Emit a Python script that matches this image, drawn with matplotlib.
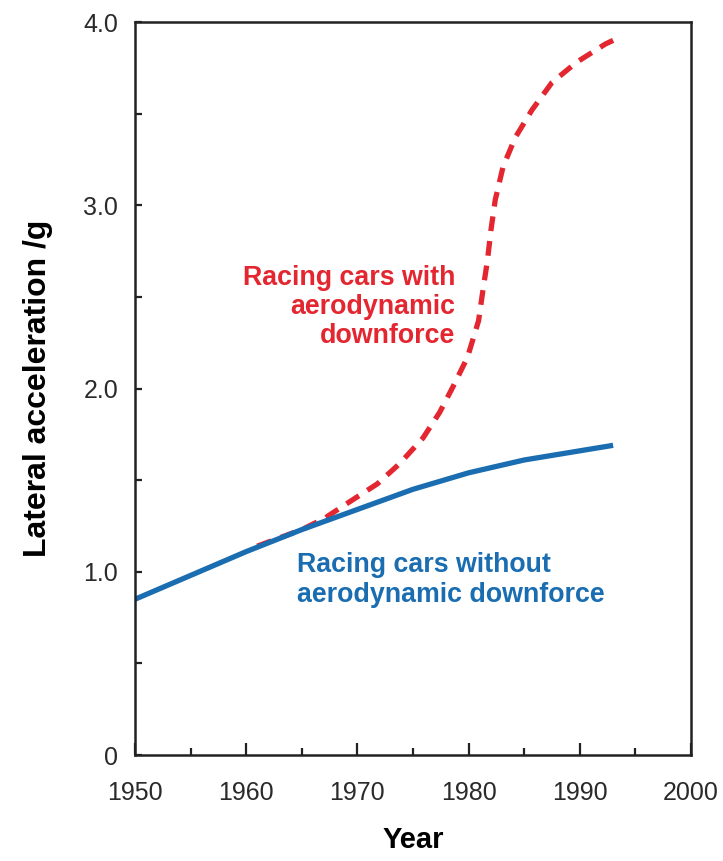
#!/usr/bin/env python
# -*- coding: utf-8 -*-

import matplotlib
matplotlib.use("Agg")
import matplotlib.pyplot as plt
from matplotlib.ticker import MultipleLocator

plt.rcParams['font.family'] = ['Liberation Sans', 'DejaVu Sans']

# -- data
years_without = [1950, 1955, 1960, 1965, 1970, 1975, 1980, 1985, 1990, 1993]
accel_without = [0.85, 0.98, 1.11, 1.23, 1.34, 1.45, 1.54, 1.61, 1.66, 1.69]

years_with = [1961, 1965, 1967, 1969, 1971.8, 1973.8, 1975.9, 1977.4, 1978.6,
              1979.9, 1980.9, 1981.3, 1981.7, 1982, 1982.4, 1983.1, 1984.2,
              1985.7, 1987.5, 1989.7, 1992.3, 1993]
accel_with = [1.14, 1.23, 1.29, 1.37, 1.48, 1.59, 1.73, 1.87, 2.01,
              2.17, 2.37, 2.54, 2.70, 2.86, 3.03, 3.21, 3.37,
              3.52, 3.67, 3.78, 3.88, 3.90]

x_ticks = [1950, 1960, 1970, 1980, 1990, 2000]
y_ticks = [0, 1.0, 2.0, 3.0, 4.0]
y_ticklabels = ['0', '1.0', '2.0', '3.0', '4.0']

blue = '#1a6db0'
red = '#e3262f'

fig = plt.figure(figsize=(7.23, 8.61), dpi=100)
ax = fig.add_axes([0.1867, 0.1231, 0.769, 0.8513])

ax.plot(years_with, accel_with, color=red, linewidth=3.8,
        dashes=(2.8, 1.9), dash_capstyle='butt', solid_joinstyle='round')
ax.plot(years_without, accel_without, color=blue, linewidth=3.8,
        solid_capstyle='butt', solid_joinstyle='round')

ax.set_xlim(1950, 2000)
ax.set_ylim(0, 4.0)
ax.set_xticks(x_ticks)
ax.xaxis.set_minor_locator(MultipleLocator(5))
ax.set_yticks(y_ticks)
ax.set_yticklabels(y_ticklabels)
ax.yaxis.set_minor_locator(MultipleLocator(0.5))

ax.tick_params(axis='both', which='both', direction='in', color='#222222',
               width=1.6, labelsize=18, labelcolor='#2a2a2a')
ax.tick_params(axis='x', which='major', length=9, pad=19)
ax.tick_params(axis='x', which='minor', length=5)
ax.tick_params(axis='y', which='both', length=5, pad=12)

for sp in ax.spines.values():
    sp.set_linewidth(1.8)
    sp.set_color('#222222')

ax.set_xlabel('Year', fontsize=21, fontweight='bold', labelpad=15)
ax.set_ylabel('Lateral acceleration /g', fontsize=23, fontweight='bold',
              labelpad=22)

ax.text(1978.8, 2.445, 'Racing cars with\naerodynamic\ndownforce',
        color=red, fontsize=19.3, fontweight='bold', ha='right', va='center',
        linespacing=1.17)
ax.text(1964.6, 0.955, 'Racing cars without\naerodynamic downforce',
        color=blue, fontsize=19.3, fontweight='bold', ha='left', va='center',
        linespacing=1.17)

plt.savefig('out.png', dpi=100)
plt.close()
